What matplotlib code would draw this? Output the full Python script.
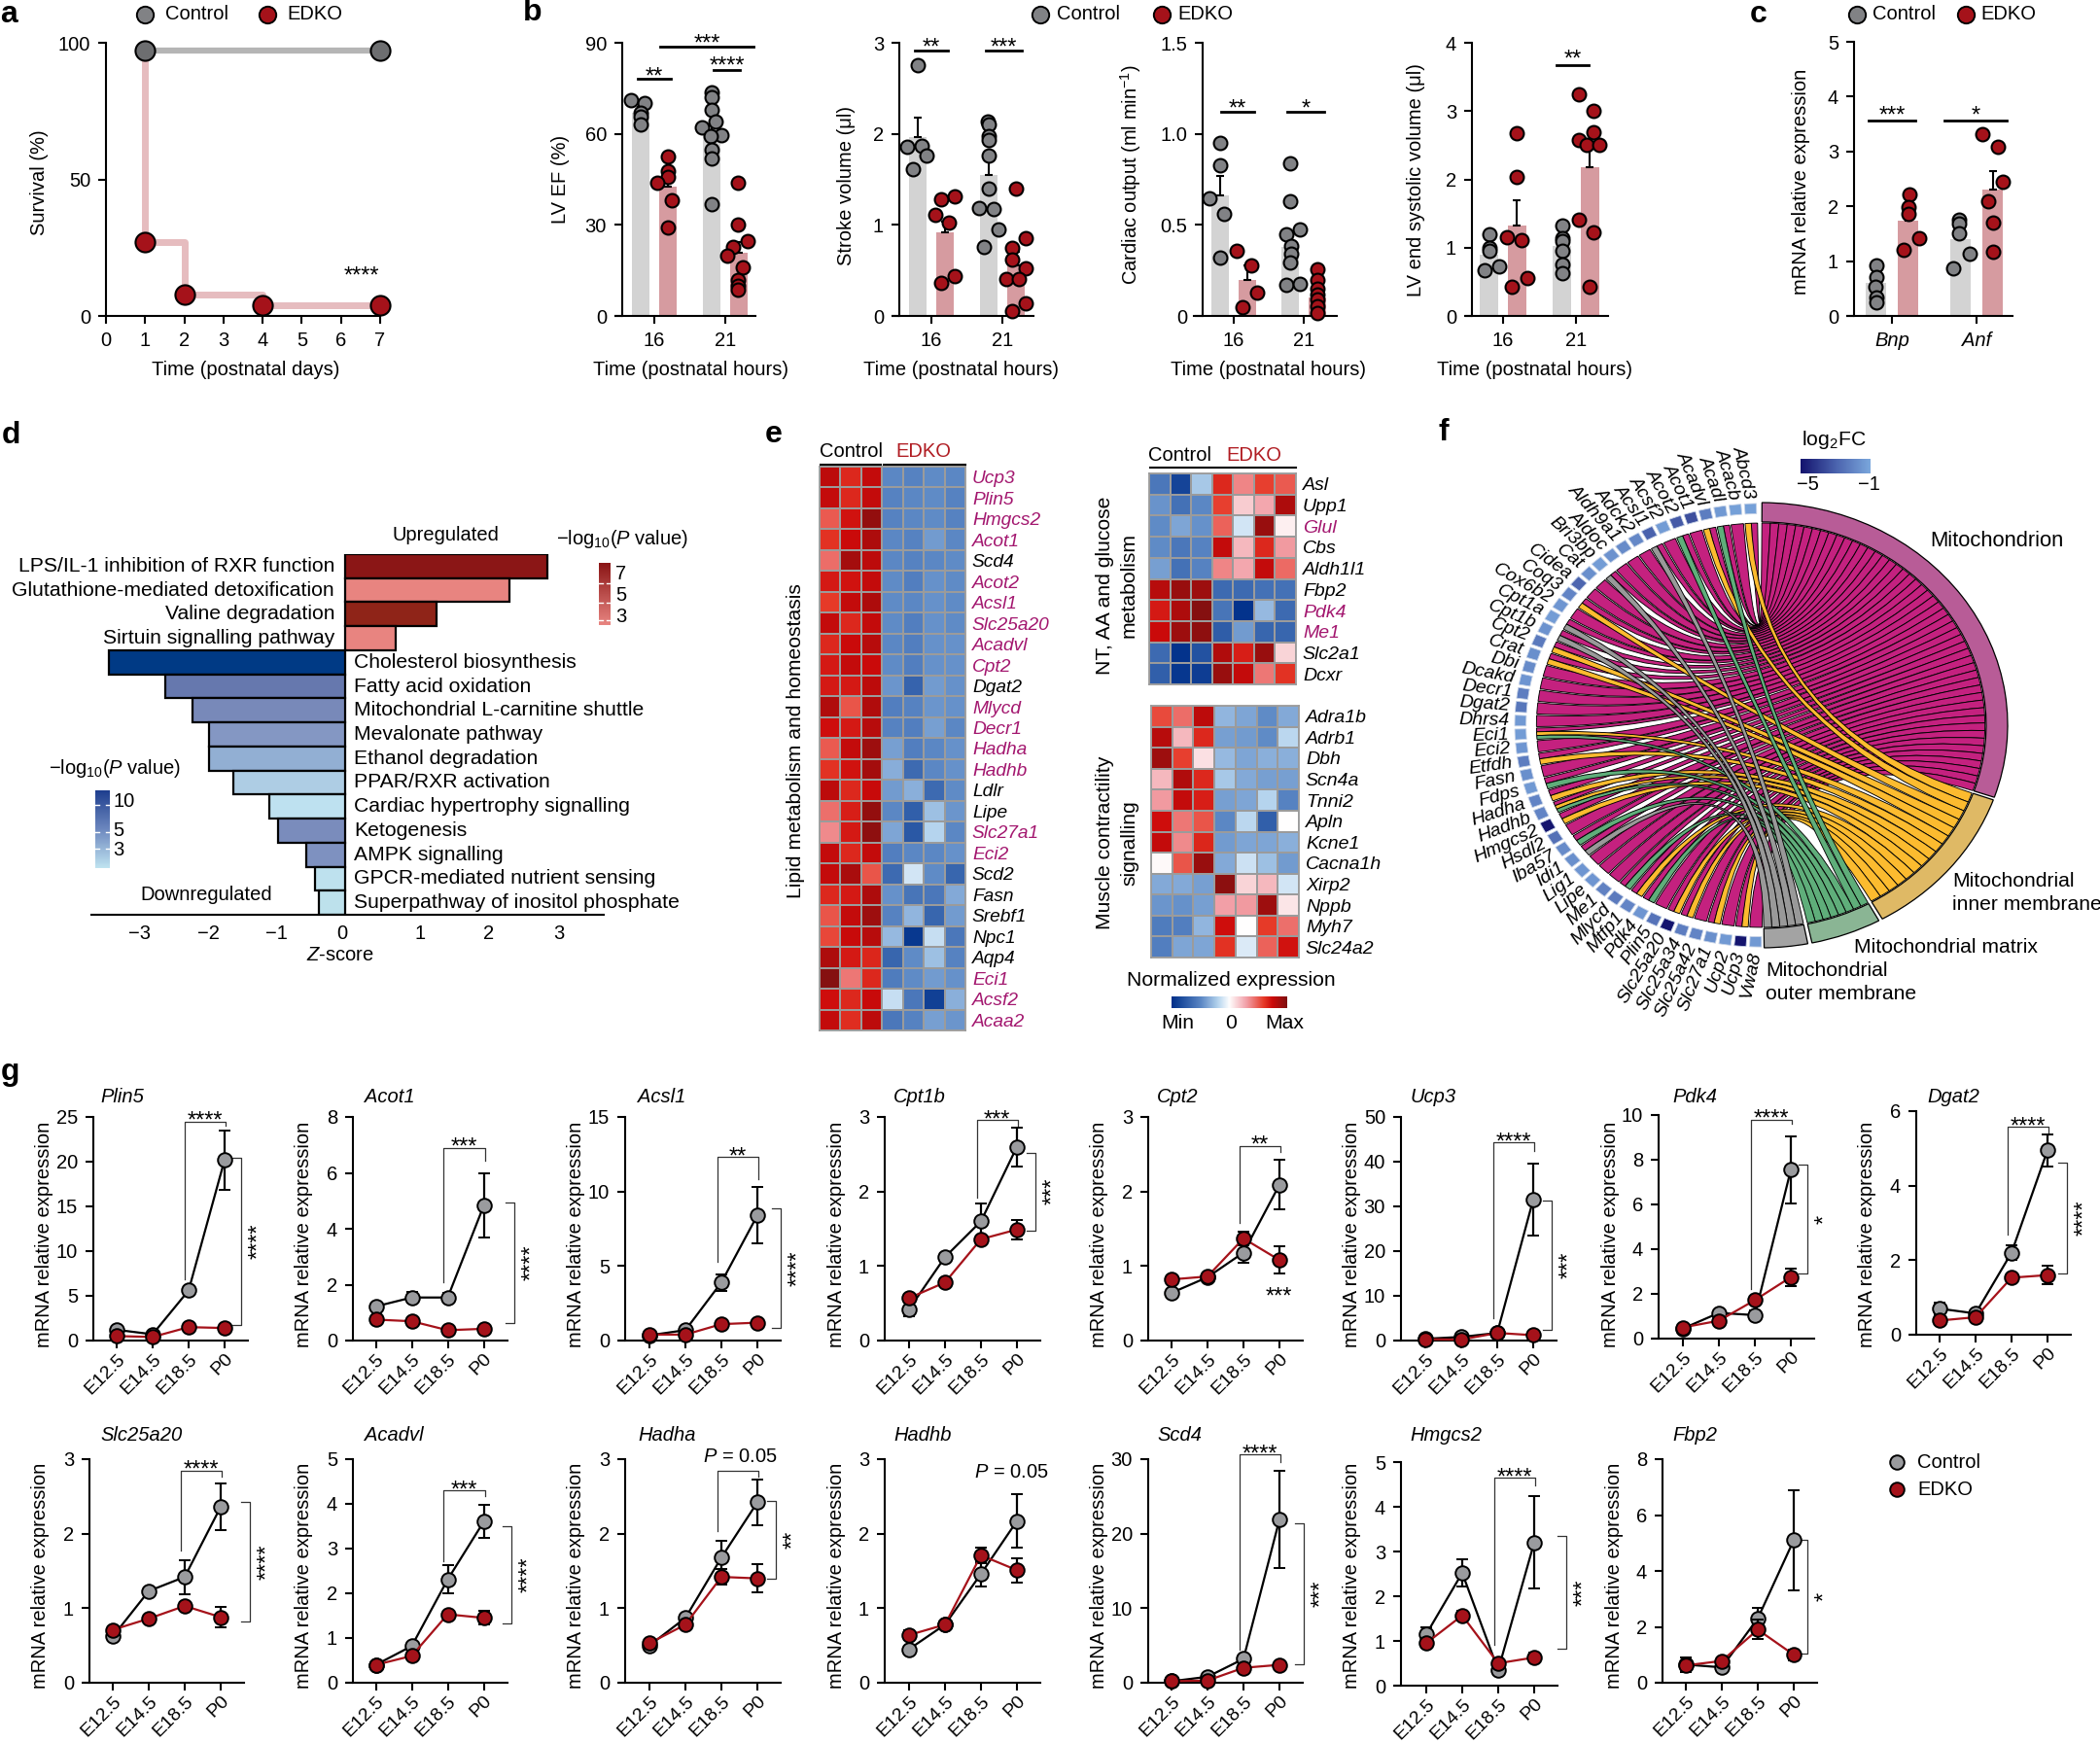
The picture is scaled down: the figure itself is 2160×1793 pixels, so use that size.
# Figure panels a-g, rebuilt from values
import numpy as np
import matplotlib
matplotlib.use('Agg')
import matplotlib.pyplot as plt
from matplotlib.colors import LinearSegmentedColormap
from matplotlib.patches import PathPatch, Wedge
from matplotlib.path import Path

plt.rcParams['font.family'] = ['Liberation Sans', 'DejaVu Sans']
plt.rcParams['mathtext.fontset'] = 'custom'
plt.rcParams['mathtext.rm'] = 'Liberation Sans'
plt.rcParams['mathtext.it'] = 'Liberation Sans:italic'
plt.rcParams['axes.unicode_minus'] = True

W, H = 2160, 1793
GREY = '#9a9b9e'
GREY_D = '#6d6e70'
GREY_B = '#818285'
RED = '#a5121a'
BAR_G = '#d3d3d3'
BAR_R = '#d69ba0'
MAG = '#a3176f'
FS = 14.5
FS_L = 15.2

# ---- panel a
surv_days_c = [1, 7]
surv_c = [97, 97]
surv_days_e = [1, 1, 2, 4, 7]
surv_e = [97, 27, 8, 4, 4]

# ---- panel b and c: bar means, errors, points (ctrl 16, edko 16, ctrl 21, edko 21)
ef_mean = [67, 42.6, 60, 20.8]
ef_err = [2, 4, 3, 3.5]
ef_pts = [[71, 70, 67, 65.5, 63], [52.4, 47.8, 45.7, 44, 38.2, 29],
          [73.7, 72, 68, 64, 62, 59.5, 59.3, 54.8, 51.8, 36.7],
          [43.8, 30, 24.6, 22.8, 19.8, 16, 12, 10, 8.5]]
ef_dx = [[-10, 4, 0, 0, 0], [0, 0, 0, -11, 4, 0], [0, 0, 0, 4, -10, 10, -1, 0, 0, 0],
         [-1, -1, 9, -6, -12, 4, -1, -1, -1]]
sv_mean = [1.96, 0.92, 1.55, 0.55]
sv_err = [0.22, 0.12, 0.17, 0.15]
sv_pts = [[2.75, 1.86, 1.87, 1.76, 1.61], [1.31, 1.28, 1.11, 1.03, 0.44, 0.36],
          [2.14, 2.10, 1.98, 1.93, 1.76, 1.40, 1.18, 1.17, 0.95, 0.76],
          [1.40, 0.85, 0.75, 0.62, 0.52, 0.41, 0.41, 0.135, 0.05]]
sv_dx = [[0, -11, 4, 9, -5], [10, -4, -10, 4, 10, -4], [-1, 0, 0, 0, 0, 0, -10, 5, 10, -5],
         [0, 10, -4, -4, 10, -10, 3, 10, -4]]
co_mean = [0.66, 0.20, 0.38, 0.10]
co_err = [0.11, 0.08, 0.06, 0.03]
co_pts = [[0.95, 0.825, 0.647, 0.56, 0.32], [0.356, 0.276, 0.13, 0.048],
          [0.84, 0.63, 0.476, 0.446, 0.383, 0.339, 0.294, 0.169, 0.175],
          [0.258, 0.196, 0.15, 0.116, 0.09, 0.053, 0.018]]
co_dx = [[0, 0, -11, 4, 0], [-11, 4, 10, -5], [0, 0, 10, -4, 1, 1, 0, -4, 10],
         [0, 0, 0, 0, 0, 0, 0]]
es_mean = [0.9, 1.32, 1.02, 2.18]
es_err = [0.12, 0.37, 0.1, 0.36]
es_pts = [[1.2, 1.0, 0.95, 0.73, 0.665], [2.68, 2.03, 1.16, 1.11, 0.55, 0.42],
          [1.32, 1.14, 1.09, 0.96, 0.76, 0.62],
          [3.25, 3.0, 2.69, 2.57, 2.5, 2.5, 1.41, 1.23, 0.43]]
es_dx = [[0, 0, 0, 10, -5], [0, 0, -10, 5, 11, -5], [0, 0, 0, 0, 0, 0],
         [-11, 4, 4, -11, -3, 10, -11, 4, 0]]
mr_mean = [0.6, 1.745, 1.4, 2.31]
mr_err = [0.12, 0.2, 0.18, 0.33]
mr_pts = [[0.92, 0.71, 0.53, 0.33, 0.24], [2.22, 1.98, 1.86, 1.42, 1.21],
          [1.75, 1.69, 1.5, 1.14, 0.86], [3.31, 3.08, 2.44, 2.09, 1.71, 1.17]]
mr_dx = [[1, 1, 0, 1, 1], [1, 0, 0, 11, -5], [-1, -1, -1, 10, -7], [-11, 5, 10, -5, 0, 0]]

# ---- panel d
up_terms = ['LPS/IL-1 inhibition of RXR function', 'Glutathione-mediated detoxification',
            'Valine degradation', 'Sirtuin signalling pathway']
up_z = [2.945, 2.395, 1.34, 0.74]
up_col = ['#8b1616', '#e88480', '#8f2418', '#e88480']
down_terms = ['Cholesterol biosynthesis', 'Fatty acid oxidation', 'Mitochondrial L-carnitine shuttle',
              'Mevalonate pathway', 'Ethanol degradation', 'PPAR/RXR activation',
              'Cardiac hypertrophy signalling', 'Ketogenesis', 'AMPK signalling',
              'GPCR-mediated nutrient sensing', 'Superpathway of inositol phosphate']
down_z = [-3.45, -2.63, -2.23, -1.98, -1.98, -1.63, -1.11, -0.98, -0.57, -0.44, -0.38]
down_col = ['#003a85', '#6678ae', '#7889b9', '#8497c3', '#92afd3', '#aecde4',
            '#bee1f0', '#7a8cbc', '#7e91c0', '#bee1ee', '#bde1ec']

# ---- panel e (values in percent of the colour range)
lipid_genes = ['Ucp3', 'Plin5', 'Hmgcs2', 'Acot1', 'Scd4', 'Acot2', 'Acsl1', 'Slc25a20', 'Acadvl',
               'Cpt2', 'Dgat2', 'Mlycd', 'Decr1', 'Hadha', 'Hadhb', 'Ldlr', 'Lipe', 'Slc27a1', 'Eci2',
               'Scd2', 'Fasn', 'Srebf1', 'Npc1', 'Aqp4', 'Eci1', 'Acsf2', 'Acaa2']
lipid_black = ['Scd4', 'Dgat2', 'Ldlr', 'Lipe', 'Scd2', 'Fasn', 'Srebf1', 'Npc1', 'Aqp4']
lipid = [[80, 65, 78, -50, -52, -48, -50], [78, 65, 78, -52, -50, -48, -52],
         [50, 72, 93, -52, -50, -48, -52], [62, 75, 85, -50, -52, -42, -50],
         [45, 88, 80, -50, -52, -50, -48], [70, 72, 78, -48, -54, -46, -48],
         [60, 78, 85, -48, -50, -46, -48], [78, 65, 78, -48, -54, -46, -48],
         [65, 75, 82, -50, -54, -46, -46], [70, 78, 75, -48, -54, -46, -46],
         [70, 70, 80, -44, -70, -42, -46], [84, 52, 84, -54, -52, -44, -46],
         [74, 70, 82, -52, -54, -40, -50], [50, 78, 90, -40, -54, -50, -46],
         [62, 72, 88, -35, -66, -50, -46], [80, 65, 76, -42, -34, -66, -48],
         [44, 68, 93, -50, -72, -28, -44], [36, 70, 95, -38, -76, -20, -50],
         [78, 65, 78, -54, -50, -50, -46], [78, 86, 52, -66, -12, -48, -68],
         [65, 70, 85, -46, -60, -58, -36], [52, 78, 90, -52, -32, -68, -42],
         [56, 76, 82, -30, -95, -15, -58], [85, 70, 66, -68, -48, -28, -52],
         [98, 42, 65, -56, -48, -42, -46], [74, 65, 76, -15, -58, -90, -34],
         [78, 64, 80, -58, -52, -40, -44]]
nt_genes = ['Asl', 'Upp1', 'Glul', 'Cbs', 'Aldh1l1', 'Fbp2', 'Pdk4', 'Me1', 'Slc2a1', 'Dcxr']
nt_magenta = ['Glul', 'Pdk4', 'Me1']
nt = [[-58, -88, -25, 65, 38, 58, 50], [-45, -62, -50, 58, 16, 28, 85],
      [-48, -38, -46, 48, -12, 92, 5], [-48, -58, -52, 78, 22, 65, 32],
      [-40, -62, -52, 38, 28, 78, 46], [82, 92, 90, -66, -66, -62, -62],
      [70, 85, 98, -60, -98, -30, -66], [75, 90, 95, -74, -42, -68, -68],
      [-66, -98, -80, 84, 68, 92, 14], [-72, -96, -92, 92, 78, 42, 62]]
mus_genes = ['Adra1b', 'Adrb1', 'Dbh', 'Scn4a', 'Tnni2', 'Apln', 'Kcne1', 'Cacna1h', 'Xirp2',
             'Nppb', 'Myh7', 'Slc24a2']
mus = [[55, 45, 80, -32, -38, -48, -36], [82, 22, 65, -40, -42, -48, -18],
       [90, 58, 10, -30, -38, -34, -34], [22, 84, 65, -25, -36, -40, -40],
       [32, 78, 68, -40, -38, -20, -52], [74, 42, 52, -50, -18, -72, 0],
       [78, 36, 66, -42, -38, -38, -34], [2, 52, 92, -36, -14, -28, -42],
       [-36, -36, -40, 96, 14, 22, -12], [-44, -46, -40, 30, 32, 90, 8],
       [-56, -54, -32, 74, 0, 60, 44], [-54, -38, -38, 62, -10, 48, 72]]

# ---- panel f
chord_genes = ['Abcd3', 'Acacb', 'Acadl', 'Acadvl', 'Acot1', 'Acot2', 'Acsf2', 'Acsl1', 'Adck2',
               'Aldh9a1', 'Aldoc', 'Bri3bp', 'Cat', 'Cidea', 'Coq3', 'Cox6b2', 'Cpt1a', 'Cpt1b',
               'Cpt2', 'Crat', 'Dbi', 'Dcakd', 'Decr1', 'Dgat2', 'Dhrs4', 'Eci1', 'Eci2', 'Etfdh',
               'Fasn', 'Fdps', 'Hadha', 'Hadhb', 'Hmgcs2', 'Hsdl2', 'Iba57', 'Idi1', 'Lig1', 'Lipe',
               'Me1', 'Mlycd', 'Mtfp1', 'Pdk4', 'Plin5', 'Slc25a20', 'Slc25a34', 'Slc25a42',
               'Slc27a1', 'Ucp2', 'Ucp3', 'Vwa8']
chord_fc = [-1.2, -1.2, -1.4, -2.2, -3.5, -3.2, -1.3, -3.0, -1.9, -1.8, -1.6, -1.3, -1.7, -2.9, -2.0,
            -1.5, -1.3, -1.6, -2.3, -1.7, -1.8, -1.5, -2.2, -2.4, -1.4, -1.3, -1.5, -2.2, -1.7, -1.4,
            -2.0, -2.0, -5.0, -2.6, -1.8, -1.7, -1.5, -1.5, -2.1, -2.3, -2.0, -1.5, -2.5, -5.0, -2.2,
            -2.0, -1.7, -1.4, -5.0, -1.4]
inner_set = [0, 3, 14, 18, 19, 25, 27, 30, 31, 32, 40, 43, 44, 46, 48]
matrix_set = [2, 5, 25, 29, 31, 34, 39, 41]
outer_set = [7, 11, 16, 17, 35]

# ---- panel g
g_names = ['Plin5', 'Acot1', 'Acsl1', 'Cpt1b', 'Cpt2', 'Ucp3', 'Pdk4', 'Dgat2',
           'Slc25a20', 'Acadvl', 'Hadha', 'Hadhb', 'Scd4', 'Hmgcs2', 'Fbp2']
g_stage = ['E12.5', 'E14.5', 'E18.5', 'P0']
g_ctrl = [[1.2, 0.7, 5.6, 20.2], [1.22, 1.54, 1.54, 4.82], [0.35, 0.7, 3.9, 8.4], [0.42, 1.12, 1.6, 2.6],
          [0.64, 0.85, 1.18, 2.09], [0.4, 0.8, 1.7, 31.5], [0.45, 1.15, 1.05, 7.55], [0.7, 0.57, 2.2, 4.95],
          [0.62, 1.23, 1.42, 2.36], [0.4, 0.82, 2.31, 3.6], [0.5, 0.87, 1.68, 2.42], [0.45, 0.78, 1.46, 2.17],
          [0.2, 0.8, 3.2, 21.9], [1.15, 2.52, 0.35, 3.2], [0.65, 0.55, 2.3, 5.1]]
g_ctrl_err = [[0.2, 0.1, 0.3, 3.3], [0.1, 0.2, 0.15, 1.15], [0.1, 0.1, 0.55, 1.9], [0.1, 0.05, 0.24, 0.26],
              [0.05, 0.05, 0.13, 0.33], [0.3, 0.4, 0.5, 8.1], [0.1, 0.1, 0.2, 1.5], [0.17, 0.08, 0.2, 0.43],
              [0.05, 0.05, 0.23, 0.31], [0.05, 0.08, 0.32, 0.37], [0.05, 0.05, 0.23, 0.31], [0.05, 0.05, 0.17, 0.36],
              [0.2, 0.2, 0.4, 6.5], [0.15, 0.31, 0.1, 1.03], [0.25, 0.1, 0.38, 1.8]]
g_edko = [[0.5, 0.4, 1.5, 1.4], [0.75, 0.69, 0.37, 0.42], [0.4, 0.4, 1.1, 1.2], [0.57, 0.78, 1.36, 1.49],
          [0.82, 0.86, 1.37, 1.08], [0.3, 0.2, 1.7, 1.2], [0.5, 0.8, 1.72, 2.75], [0.38, 0.47, 1.53, 1.6],
          [0.71, 0.86, 1.03, 0.88], [0.4, 0.6, 1.53, 1.45], [0.53, 0.78, 1.42, 1.4], [0.64, 0.78, 1.71, 1.51],
          [0.2, 0.3, 2.0, 2.4], [0.95, 1.57, 0.5, 0.63], [0.62, 0.78, 1.9, 1.0]]
g_edko_err = [[0.2, 0.2, 0.2, 0.2], [0.1, 0.1, 0.1, 0.08], [0.1, 0.1, 0.1, 0.1], [0.06, 0.05, 0.05, 0.13],
              [0.05, 0.05, 0.09, 0.18], [0.5, 0.5, 0.5, 0.5], [0.1, 0.1, 0.1, 0.4], [0.05, 0.05, 0.05, 0.24],
              [0.05, 0.05, 0.05, 0.14], [0.05, 0.05, 0.05, 0.15], [0.05, 0.05, 0.1, 0.19], [0.06, 0.06, 0.1, 0.16],
              [0.2, 0.2, 0.3, 0.3], [0.1, 0.1, 0.1, 0.1], [0.1, 0.1, 0.35, 0.2]]
g_yticks = [[0, 5, 10, 15, 20, 25], [0, 2, 4, 6, 8], [0, 5, 10, 15], [0, 1, 2, 3], [0, 1, 2, 3],
            [0, 10, 20, 30, 40, 50], [0, 2, 4, 6, 8, 10], [0, 2, 4, 6], [0, 1, 2, 3], [0, 1, 2, 3, 4, 5],
            [0, 1, 2, 3], [0, 1, 2, 3], [0, 10, 20, 30], [0, 1, 2, 3, 4, 5], [0, 2, 4, 6, 8]]
# significance: top bracket (bar level, left end, right end, stars)
g_top = [(24.5, 6.8, 24.0, '****'), (6.9, 2.1, 6.43, '***'), (12.3, 5.3, 10.8, '**'), (2.96, 1.92, 2.88, '***'),
         (2.61, 1.58, 2.53, '**'), (44.3, 5, 42.4, '****'), (9.8, 2.2, 9.62, '****'), (5.58, 2.69, 5.38, '****'),
         (2.85, 1.77, 2.77, '****'), (4.3, 2.72, 4.17, '***'), (2.85, 2.04, 2.76, ''), None,
         (30.6, 4.4, 29.6, '****'), (4.65, 0.92, 4.47, '****'), None]
# side bracket (upper end, lower end, stars)
g_side = [(20.4, 1.74, '****'), (4.95, 0.61, '****'), (8.85, 0.87, '****'), (2.52, 1.48, '***'), None,
          (31.2, 2.4, '***'), (7.8, 2.9, '*'), (4.61, 1.65, '****'), (2.42, 0.82, '****'), (3.49, 1.33, '****'),
          (2.44, 1.39, '**'), None, (21.4, 2.5, '***'), (3.35, 0.82, '***'), (5.1, 1.04, '*')]

# ---- layout in pixels of the picture
g_yax = [96, 363, 643, 910, 1181, 1441, 1706, 1971, 92, 363, 643, 910, 1181, 1441, 1710]
g_ytop = [1149, 1149, 1149, 1149, 1149, 1149, 1147, 1143, 1501, 1501, 1501, 1501, 1501, 1504, 1501]
g_ybot = [1379, 1379, 1379, 1379, 1379, 1379, 1377, 1373, 1731, 1731, 1731, 1731, 1731, 1734, 1731]
g_t0 = [120, 386.5, 668, 935, 1205, 1466, 1731, 1995, 116, 386.5, 668, 935, 1205, 1467, 1734]
g_side_x = [3.46, 3.86, 3.66, 3.51, 0, 3.52, 3.47, 3.54, 3.81, 3.78, 3.51, 0, 3.67, 3.89, 3.39]
g_title_x = [103, 375, 656, 919, 1190, 1450, 1720, 1982, 103, 375, 656, 919, 1190, 1450, 1720]


def add_ax(x0, ytop, x1, ybot):
    ax = fig.add_axes([x0 / W, 1 - ybot / H, (x1 - x0) / W, (ybot - ytop) / H])
    ax.set_facecolor('none')
    return ax


def clean(ax, lw=1.5):
    ax.spines['top'].set_visible(False)
    ax.spines['right'].set_visible(False)
    ax.spines['left'].set_linewidth(lw)
    ax.spines['bottom'].set_linewidth(lw)
    ax.tick_params(width=lw, length=5.5, labelsize=FS, pad=6)


def bar_panel(yax, ytop, ybot, xs, xe, t0, t1, ymax, yticks, ylabels, xlabels, means, errs, pts, dx, italic=False):
    ax = add_ax(xs, ytop, xe, ybot)
    sp = t1 - t0
    ax.set_xlim((xs - t0) / sp, (xe - t0) / sp)
    ax.set_ylim(0, ymax)
    clean(ax)
    ax.spines['left'].set_position(('data', (yax - t0) / sp))
    pos = [-0.19, 0.19, 0.81, 1.19]
    cols = [BAR_G, BAR_R, BAR_G, BAR_R]
    mcols = [GREY_B, RED, GREY_B, RED]
    ax.bar(pos, means, width=0.25, color=cols, zorder=1)
    for i in range(4):
        ax.errorbar(pos[i], means[i], yerr=[[0], [errs[i]]], color='black', lw=1.5, capsize=3, capthick=1.5, zorder=2)
        xp = [pos[i] + d / sp for d in dx[i]]
        ax.plot(xp, pts[i], 'o', ms=10, mfc=mcols[i], mec='black', mew=1.5, clip_on=False, zorder=3)
    ax.set_xticks([0, 1])
    ax.set_xticklabels(xlabels, style='italic' if italic else 'normal')
    ax.set_yticks(yticks)
    ax.set_yticklabels(ylabels)
    return ax


def sig(x0, x1, y, label, ys):
    # bar above the groups, with its stars
    ov.plot([x0, x1], [y, y], color='black', lw=2)
    ov.text((x0 + x1) / 2, ys, label, ha='center', va='center', fontsize=17)


fig = plt.figure(figsize=(W / 100, H / 100), dpi=100)
ov = fig.add_axes([0, 0, 1, 1], zorder=10)
ov.set_xlim(0, W)
ov.set_ylim(H, 0)
ov.axis('off')

# panel letters
for lab, x, y in [('a', 9, 15), ('b', 548, 13), ('c', 1809, 15), ('d', 11, 448), ('e', 796, 447),
                  ('f', 1485, 445), ('g', 10, 1103)]:
    ov.text(x, y, lab, fontsize=23, fontweight='bold', ha='center', va='center')

# top legends
for xc, xt, xe, xte in [(149, 170, 275, 295), (1070, 1087, 1195, 1211), (1910, 1926, 2022, 2037)]:
    ov.plot(xc, 15, 'o', ms=12.5, mfc=GREY_B, mec='black', mew=1.4)
    ov.plot(xe, 15, 'o', ms=12.5, mfc=RED, mec='black', mew=1.4)
    ov.text(xt, 15, 'Control', fontsize=FS, va='center')
    ov.text(xte, 15, 'EDKO', fontsize=FS, va='center')

# panel a
ax = add_ax(109, 44, 391, 325)
ax.set_xlim(0, 7)
ax.set_ylim(0, 100)
clean(ax)
ax.plot(surv_days_c, surv_c, color='#b5b5b5', lw=4.5, zorder=1)
ax.step(surv_days_e, surv_e, where='post', color='#e6bcbf', lw=5, zorder=1)
ax.plot(surv_days_c, surv_c, 'o', ms=14.5, mfc=GREY_D, mec='black', mew=1.5, clip_on=False, zorder=3)
ax.plot(surv_days_e[1:], surv_e[1:], 'o', ms=14.5, mfc=RED, mec='black', mew=1.5, clip_on=False, zorder=4)
ax.set_xticks(range(8))
ax.set_yticks([0, 50, 100])
ov.text(372, 285, '****', fontsize=17, ha='center', va='center')
ov.text(41, 188, 'Survival (%)', fontsize=FS, rotation=90, ha='center', va='center')
ov.text(253, 381, 'Time (postnatal days)', fontsize=FS, ha='center', va='center')

# panel b
bar_panel(640, 44, 325, 633, 777, 673, 746, 90, [0, 30, 60, 90], ['0', '30', '60', '90'], ['16', '21'],
          ef_mean, ef_err, ef_pts, ef_dx)
bar_panel(925, 44, 325, 918, 1063, 958, 1031, 3, [0, 1, 2, 3], ['0', '1', '2', '3'], ['16', '21'],
          sv_mean, sv_err, sv_pts, sv_dx)
bar_panel(1237, 44, 325, 1228, 1375, 1269, 1341, 1.5, [0, 0.5, 1, 1.5], ['0', '0.5', '1.0', '1.5'], ['16', '21'],
          co_mean, co_err, co_pts, co_dx)
bar_panel(1514, 44, 325, 1508, 1654, 1546, 1621, 4, [0, 1, 2, 3, 4], ['0', '1', '2', '3', '4'], ['16', '21'],
          es_mean, es_err, es_pts, es_dx)
bar_panel(1907, 43, 325, 1900, 2070, 1946, 2033, 5, [0, 1, 2, 3, 4, 5], ['0', '1', '2', '3', '4', '5'], ['Bnp', 'Anf'],
          mr_mean, mr_err, mr_pts, mr_dx, italic=True)
for s in [(656, 690, 81, '**', 80), (734, 761, 72, '****', 69), (679, 775, 48, '***', 46),
          (941, 975, 52, '**', 50), (1014, 1051, 52, '***', 50),
          (1256, 1290, 115, '**', 113), (1324, 1362, 115, '*', 113),
          (1601, 1634, 67, '**', 62), (1922, 1970, 124, '***', 120), (2000, 2064, 124, '*', 120)]:
    sig(s[0], s[1], s[2], s[3], s[4])
for x, yc, txt in [(577, 184, 'LV EF (%)'), (870, 191, 'Stroke volume (μl)'),
                   (1163, 180, 'Cardiac output (ml min$^{-1}$)'), (1456, 185, 'LV end systolic volume (μl)'),
                   (1852, 187, 'mRNA relative expression')]:
    ov.text(x, yc, txt, fontsize=FS, rotation=90, ha='center', va='center')
for x in [710, 988, 1305, 1578]:
    ov.text(x, 381, 'Time (postnatal hours)', fontsize=FS, ha='center', va='center')

# panel d
ax = add_ax(94, 570, 621, 941)
ax.set_xlim((94 - 355) / 70.5, (621 - 355) / 70.5)
ax.set_ylim(15, 0)
for i, z in enumerate(up_z + down_z):
    ax.barh(i + 0.5, z, height=1, color=(up_col + down_col)[i], edgecolor='black', lw=1.6)
for s in ['top', 'right', 'left']:
    ax.spines[s].set_visible(False)
ax.spines['bottom'].set_linewidth(1.5)
ax.set_yticks([])
ax.set_xticks([-3, -2, -1, -0.05, 1.09, 2.09, 3.12])
ax.set_xticklabels(['\u22123', '\u22122', '\u22121', '0', '1', '2', '3'], fontsize=FS)
ax.tick_params(length=0, pad=7)
for i, t in enumerate(up_terms):
    ax.text(-0.155, i + 0.5, t, ha='right', va='center', fontsize=FS_L)
for i, t in enumerate(down_terms):
    ax.text(0.125, i + 4.5, t, ha='left', va='center', fontsize=FS_L)
ov.text(458, 551, 'Upregulated', fontsize=FS, ha='center', va='center')
ov.text(212, 920, 'Downregulated', fontsize=FS, ha='center', va='center')
ov.text(350, 983, r'$\mathit{Z}$-score', fontsize=FS, ha='center', va='center')
PLOG = '\u2212log$_{10}$($\\mathit{P}$ value)'
ov.text(640, 555, PLOG, fontsize=FS, ha='center', va='center')
ov.text(118, 790, PLOG, fontsize=FS, ha='center', va='center')

grad_r = LinearSegmentedColormap.from_list('gr', ['#8b1616', '#e88480'])
grad_b = LinearSegmentedColormap.from_list('gb', ['#1f3f8f', '#6d88bf', '#bfe3f0'])
gr = np.linspace(0, 1, 64).reshape(-1, 1)
ax = add_ax(616, 579, 628, 643)
ax.imshow(gr, aspect='auto', cmap=grad_r)
ax.axis('off')
ax = add_ax(98, 813, 113, 893)
ax.imshow(gr, aspect='auto', cmap=grad_b)
ax.axis('off')
for y in [600, 620, 638]:
    ov.plot([616, 620], [y, y], color='white', lw=1)
    ov.plot([624, 628], [y, y], color='white', lw=1)
for y in [828, 856, 873]:
    ov.plot([98, 102], [y, y], color='white', lw=1)
    ov.plot([109, 113], [y, y], color='white', lw=1)
for y, t in [(591, '7'), (613, '5'), (634, '3')]:
    ov.text(639, y, t, fontsize=FS, ha='center', va='center')
for y, t in [(825, '10'), (855, '5'), (875, '3')]:
    ov.text(116, y, t, fontsize=FS, ha='left', va='center')

# panel e
heat_cmap = LinearSegmentedColormap.from_list('heat', [
    (0, '#00308a'), (0.25, '#5a86c4'), (0.4, '#b5d4ee'), (0.5, '#ffffff'), (0.65, '#f2a0a8'),
    (0.8, '#e63a28'), (0.875, '#cc0a0a'), (1, '#801010')])


def heat(x0, ytop, x1, ybot, mat, genes, magenta, fs):
    ax = add_ax(x0, ytop, x1, ybot)
    ax.pcolormesh(np.array(mat) / 100, cmap=heat_cmap, vmin=-1, vmax=1, edgecolors='#9b9b9b', linewidth=1.3)
    ax.set_ylim(len(genes), 0)
    ax.set_xticks([])
    ax.set_yticks(np.arange(len(genes)) + 0.5)
    ax.yaxis.tick_right()
    ax.set_yticklabels(genes, fontsize=fs, style='italic')
    ax.tick_params(length=0, pad=5)
    for lab in ax.get_yticklabels():
        if lab.get_text() in magenta:
            lab.set_color(MAG)
    for s in ax.spines.values():
        s.set_color('#9b9b9b')
        s.set_linewidth(1.3)


heat(843, 480, 993, 1060, lipid, lipid_genes, [g for g in lipid_genes if g not in lipid_black], 13.8)
heat(1182, 487, 1333, 704, nt, nt_genes, nt_magenta, 14)
heat(1184, 726, 1336, 985, mus, mus_genes, [], 14)
for xa, xb, ya in [(875, 950, 464), (1214, 1290, 468)]:
    ov.text(xa, ya, 'Control', fontsize=FS, ha='center', va='center')
    ov.text(xb, ya, 'EDKO', fontsize=FS, ha='center', va='center', color='#b01c22')
for x0, x1, y in [(844, 906, 478), (909, 993, 478), (1183, 1245, 481), (1247, 1333, 481)]:
    ov.plot([x0, x1], [y, y], color='black', lw=1.5)
ov.text(818, 762, 'Lipid metabolism and homeostasis', fontsize=FS_L, rotation=90, ha='center', va='center')
ov.text(1136, 602, 'NT, AA and glucose', fontsize=FS_L, rotation=90, ha='center', va='center')
ov.text(1161, 602, 'metabolism', fontsize=FS_L, rotation=90, ha='center', va='center')
ov.text(1136, 867, 'Muscle contractility', fontsize=FS_L, rotation=90, ha='center', va='center')
ov.text(1162, 867, 'signalling', fontsize=FS_L, rotation=90, ha='center', va='center')
ov.text(1266, 1009, 'Normalized expression', fontsize=FS_L, ha='center', va='center')
ax = add_ax(1205, 1025, 1324, 1037)
ax.imshow(np.linspace(-1, 1, 128).reshape(1, -1), aspect='auto', cmap=heat_cmap, vmin=-1, vmax=1)
ax.axis('off')
for x, t in [(1211, 'Min'), (1266.5, '0'), (1321, 'Max')]:
    ov.text(x, 1052, t, fontsize=FS_L, ha='center', va='center')

# panel f, the ring is wider than it is tall in the picture
CX, CY, RX, RY = 1811, 746, 254, 229
ax = add_ax(CX - RX - 8, CY - RY - 8, CX + RX + 8, CY + RY + 8)
ax.set_xlim(-(RX + 8) / RX, (RX + 8) / RX)
ax.set_ylim(-(RY + 8) / RY, (RY + 8) / RY)
ax.axis('off')

R_IN = 0.908
gene_ang = np.linspace(357.6, 181.2, len(chord_genes))
half = 1.6


def pol(th, r):
    t = np.deg2rad(th)
    return (r * np.sin(t), r * np.cos(t))


def ribbon(ga, gb, sa, sb, col):
    verts = []
    codes = []
    for k, th in enumerate(np.linspace(gb, ga, 6)):
        verts.append(pol(th, R_IN))
        codes.append(Path.MOVETO if k == 0 else Path.LINETO)
    verts += [(0, 0), pol(sb, R_IN)]
    codes += [Path.CURVE3, Path.CURVE3]
    for th in np.linspace(sb, sa, 8)[1:]:
        verts.append(pol(th, R_IN))
        codes.append(Path.LINETO)
    verts += [(0, 0), pol(gb, R_IN)]
    codes += [Path.CURVE3, Path.CURVE3]
    return PathPatch(Path(verts, codes), fc=col, ec='black', lw=0.65)


sectors = [('mito', list(range(len(chord_genes))), 0.3, 108.9, '#b85c97', '#c4217f', 1),
           ('inner', inner_set, 109.6, 150.5, '#dfb965', '#fcbb2f', 2),
           ('matrix', matrix_set, 151.4, 168.0, '#8ab594', '#5fae7a', 3),
           ('outer', outer_set, 169.0, 179.2, '#a3a3a3', '#999999', 4)]
for name, members, a0, a1, sec_col, rib_col, z in sectors:
    ax.add_patch(Wedge((0, 0), 1.0, 90 - a1, 90 - a0, width=1 - R_IN - 0.005, fc=sec_col, ec='black', lw=0.9))
    edges = np.linspace(a0, a1, len(members) + 1)
    for k, g in enumerate(members):
        # genes with more than one target share their arc
        others = [name2 for name2, m2, *_ in sectors if g in m2]
        n = len(others)
        slot = others.index(name)
        w = 2 * half / n
        hi = gene_ang[g] + half - slot * w
        lo = hi - w
        p = ribbon(lo, hi, edges[k], edges[k + 1], rib_col)
        p.set_zorder(z)
        ax.add_patch(p)

fc_cmap = LinearSegmentedColormap.from_list('fc', ['#14146e', '#4a62ad', '#7aa6dc'])
for g, th in enumerate(gene_ang):
    col = fc_cmap((chord_fc[g] + 5) / 4)
    ax.add_patch(Wedge((0, 0), 0.996, 90 - th - 1.4, 90 - th + 1.4, width=0.046, fc=col, ec='#c8d4e8', lw=0.6))
    lx, ly = pol(th, 1.018)
    ax.text(lx, ly, chord_genes[g], fontsize=14, style='italic', ha='right', va='center',
            rotation=-(th - 270) * 0.88, rotation_mode='anchor', clip_on=False)

ov.text(1985, 556, 'Mitochondrion', fontsize=15.8, va='center')
ov.text(2008, 906, 'Mitochondrial', fontsize=FS_L, va='center')
ov.text(2008, 931, 'inner membrane', fontsize=FS_L, va='center')
ov.text(1907, 974, 'Mitochondrial matrix', fontsize=FS_L, va='center')
ov.text(1816, 998, 'Mitochondrial', fontsize=FS_L, va='center')
ov.text(1816, 1023, 'outer membrane', fontsize=FS_L, va='center')
ov.text(1886, 453, 'log$_{2}$FC', fontsize=FS_L, ha='center', va='center')
ax = add_ax(1852, 472, 1924, 487)
ax.imshow(np.linspace(0, 1, 64).reshape(1, -1), aspect='auto', cmap=fc_cmap)
ax.axis('off')
ov.text(1859, 498, '\u22125', fontsize=FS, ha='center', va='center')
ov.text(1922, 498, '\u22121', fontsize=FS, ha='center', va='center')

# panel g
SP = 37.0
for i, name in enumerate(g_names):
    xs = g_yax[i] - 6
    xe = g_t0[i] + 3 * SP + 24
    ax = add_ax(xs, g_ytop[i], xe, g_ybot[i])
    ax.set_xlim((xs - g_t0[i]) / SP, (xe - g_t0[i]) / SP)
    ax.set_ylim(0, g_yticks[i][-1])
    clean(ax)
    ax.spines['left'].set_position(('data', (g_yax[i] - g_t0[i]) / SP))
    ax.set_yticks(g_yticks[i])
    ax.set_xticks(range(4))
    ax.set_xticklabels(g_stage, rotation=45, ha='right', rotation_mode='anchor')
    ax.tick_params(axis='x', pad=2, labelsize=14)
    xv = range(4)
    ax.errorbar(xv, g_ctrl[i], yerr=g_ctrl_err[i], color='black', lw=1.6, capsize=4, capthick=1.6, zorder=3,
                marker='o', ms=10.5, mfc=GREY, mec='black', mew=1.4, clip_on=False)
    ax.errorbar(xv, g_edko[i], yerr=g_edko_err[i], color=RED, ecolor='black', lw=1.6, capsize=4, capthick=1.6, zorder=4,
                marker='o', ms=10.5, mfc=RED, mec='black', mew=1.4, clip_on=False)
    top = g_top[i]
    if top is not None:
        ax.plot([1.88, 1.88, 3.03, 3.03], [top[1], top[0], top[0], top[2]], color='#333333', lw=0.9, clip_on=False)
        if top[3]:
            ax.annotate(top[3], (2.45, top[0]), xytext=(0, 0), textcoords='offset points',
                        ha='center', va='center', fontsize=17, annotation_clip=False)
    side = g_side[i]
    if side is not None:
        sx = g_side_x[i]
        ax.plot([sx - 0.25, sx, sx, sx - 0.25], [side[0], side[0], side[1], side[1]], color='#333333', lw=0.9, clip_on=False)
        ax.annotate(side[2], (sx, (side[0] + side[1]) / 2), xytext=(13, 0), textcoords='offset points',
                    ha='center', va='center', rotation=90, fontsize=17, annotation_clip=False)
    row_y = 1129 if i < 8 else 1476
    ov.text(g_title_x[i], row_y, name, fontsize=FS, style='italic', va='center')
    ov.text(g_yax[i] - 50, 1270 if i < 8 else 1621, 'mRNA relative expression', fontsize=FS, rotation=90,
            ha='center', va='center')

ov.text(1315, 1335, '***', fontsize=17, ha='center', va='center')
ov.text(761, 1498, r'$\mathit{P}$ = 0.05', fontsize=FS, ha='center', va='center')
ov.text(1040, 1514, r'$\mathit{P}$ = 0.05', fontsize=FS, ha='center', va='center')
ov.plot(1951, 1504, 'o', ms=10.5, mfc=GREY, mec='black', mew=1.4)
ov.plot(1951, 1532, 'o', ms=10.5, mfc=RED, mec='black', mew=1.4)
ov.text(1972, 1504, 'Control', fontsize=FS, va='center')
ov.text(1972, 1532, 'EDKO', fontsize=FS, va='center')

fig.savefig('out.png', dpi=100)
